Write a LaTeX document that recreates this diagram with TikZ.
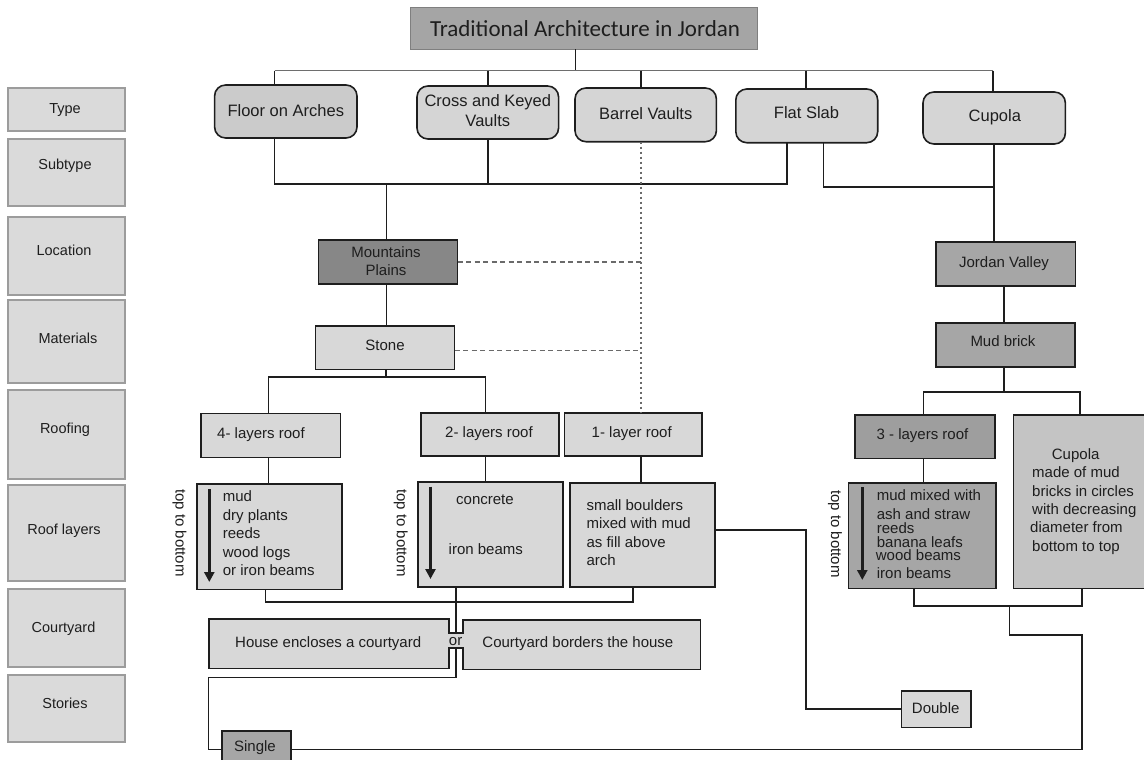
\documentclass[tikz,border=0pt]{standalone}
\usepackage{fontspec}
\setmainfont{Liberation Sans}
\newfontfamily\titlefont{Carlito}
\usetikzlibrary{arrows.meta}

\definecolor{ink}{HTML}{1E1E1E}
\definecolor{colgray}{HTML}{DADADA}
\definecolor{coledge}{HTML}{9C9C9C}
\definecolor{lightfill}{HTML}{D8D8D8}
\definecolor{typefill}{HTML}{D5D5D5}
\definecolor{archfill}{HTML}{CBCBCB}
\definecolor{midfill}{HTML}{A6A6A6}
\definecolor{darkfill}{HTML}{878787}
\definecolor{cupfill}{HTML}{C4C4C4}
\definecolor{titlefill}{HTML}{A5A5A5}
\definecolor{titleedge}{HTML}{7F7F7F}
\definecolor{busgray}{HTML}{6E6E6E}
\definecolor{dashgray}{HTML}{6A6A6A}

% box from its corner coordinates: style, name, x1, y1, x2, y2
\newcommand\mkbox[6]{%
  \pgfmathsetmacro\bxw{#5-#3}\pgfmathsetmacro\bxh{#6-#4}%
  \pgfmathsetmacro\bxx{(#3+#5)/2}\pgfmathsetmacro\bxy{(#4+#6)/2}%
  \node[#1, minimum width=\bxw pt, minimum height=\bxh pt] (#2) at (\bxx,\bxy) {};}

\tikzset{
  colbox/.style={draw=coledge, fill=colgray, line width=1.2pt, inner sep=0pt, outer sep=0pt},
  titlebox/.style={draw=titleedge, fill=titlefill, line width=1.2pt, inner sep=0pt, outer sep=0pt},
  typebox/.style={draw=ink, fill=typefill, line width=1.6pt, rounded corners=11pt, inner sep=0pt, outer sep=0pt},
  flatbox/.style={draw=ink, fill=lightfill, line width=1.6pt, inner sep=0pt, outer sep=0pt},
  midbox/.style={flatbox, fill=midfill},
  darkbox/.style={flatbox, fill=darkfill},
  lbl/.style={inner sep=0pt, text=ink, font=\fontsize{15}{18}\selectfont, align=center},
  collbl/.style={lbl, font=\fontsize{14.5}{17}\selectfont},
  typelbl/.style={lbl, font=\fontsize{16.5}{20.5}\selectfont},
  ln/.style={inner sep=0pt, text=ink, font=\fontsize{15}{18}\selectfont, anchor=base west},
  wire/.style={draw=ink, line width=1.6pt, line join=miter},
  bus/.style={draw=busgray, line width=1.4pt},
  dashlink/.style={draw=dashgray, line width=1.4pt, dash pattern=on 5pt off 3.5pt},
  dotlink/.style={draw=dashgray, line width=1.6pt, dash pattern=on 2pt off 3pt},
  tbarrow/.style={draw=ink, line width=3pt, -{Triangle[width=10pt,length=10pt]}},
}

\begin{document}
\begin{tikzpicture}[x=1pt,y=-1pt]
\useasboundingbox (0,0) rectangle (1144,760);

% ---- left legend column ----
\mkbox{colbox}{cType}{8}{88}{125}{131}
\mkbox{colbox}{cSub}{8}{139}{125}{206}
\mkbox{colbox}{cLoc}{8}{217}{125}{295}
\mkbox{colbox}{cMat}{8}{300}{125}{383}
\mkbox{colbox}{cRoof}{8}{390}{125}{479}
\mkbox{colbox}{cLay}{8}{485}{125}{581}
\mkbox{colbox}{cCourt}{8}{589}{125}{667}
\mkbox{colbox}{cStor}{8}{675}{125}{742}
\node[collbl] (tType)  at (65,110)    {Type};
\node[collbl] (tSub)   at (65,166)    {Subtype};
\node[collbl] (tLoc)   at (64,250)    {Location};
\node[collbl] (tMat)   at (68,338)    {Materials};
\node[collbl] (tRoof)  at (65,430)    {Roofing};
\node[collbl] (tLay)   at (64,530.7)  {Roof layers};
\node[collbl] (tCourt) at (63.5,628.3){Courtyard};
\node[collbl] (tStor)  at (65,703.3)  {Stories};

% ---- title ----
\mkbox{titlebox}{title}{410.7}{7.3}{757.3}{49.3}
\node[inner sep=0pt, text=ink, font=\titlefont\fontsize{23}{26}\selectfont] (tTitle) at (585,28.3) {Traditional Architecture in Jordan};

% ---- types ----
\mkbox{typebox, fill=archfill}{fa}{214.6}{85}{357}{138}
\mkbox{typebox}{ck}{417}{86}{558.6}{139}
\mkbox{typebox}{bv}{575}{88}{716.4}{141.7}
\mkbox{typebox}{fs}{735.8}{89}{877.7}{142.7}
\mkbox{typebox}{cu}{923}{92}{1065.4}{144}
\node[typelbl] (tfa) at (285.8,111)   {Floor on Arches};
\node[typelbl] (tck) at (487.8,110.4) {Cross and Keyed\\Vaults};
\node[typelbl] (tbv) at (645.7,113.3) {Barrel Vaults};
\node[typelbl] (tfs) at (806.5,112.3) {Flat Slab};
\node[typelbl] (tcu) at (994.8,117.7) {Cupola};

% ---- locations and materials ----
\mkbox{darkbox}{mp}{318.4}{240}{457.6}{284}
\mkbox{flatbox}{st}{315.6}{325.7}{454.5}{369.3}
\mkbox{midbox}{jv}{935.9}{241.7}{1075.4}{286}
\mkbox{midbox}{mb}{936}{322.7}{1075}{366.7}
\node[lbl] (tmp) at (386,261.2) {Mountains\\Plains};
\node[lbl] (tst) at (385,345)   {Stone};
\node[lbl] (tjv) at (1004,264)  {Jordan Valley};
\node[lbl] (tmb) at (1003,340.7){Mud brick};

% ---- roofing ----
\mkbox{flatbox}{r4}{200.9}{413.3}{340.6}{457.3}
\mkbox{flatbox}{r2}{421}{413}{558.7}{456}
\mkbox{flatbox}{r1}{564.5}{413}{702.2}{456}
\mkbox{midbox, fill=midfill!95!black}{r3}{855}{415}{995}{458.3}
\node[lbl] (tr4) at (261,434.3)   {4- layers roof};
\node[lbl] (tr2) at (489,434)     {2- layers roof};
\node[lbl] (tr1) at (631.7,434)   {1- layer roof};
\node[lbl] (tr3) at (922.5,436)   {3 - layers roof};

% ---- roof layers ----
\mkbox{flatbox}{l4}{196.7}{484}{342}{589.3}
\mkbox{flatbox, line width=2.2pt}{l2}{418}{482.3}{563.3}{587.3}
\mkbox{flatbox, line width=2pt}{l1}{569.8}{483.3}{714.5}{587.3}
\mkbox{midbox}{l3}{848.3}{482.7}{995.7}{588.3}
\mkbox{flatbox, fill=cupfill}{cup}{1013.3}{415}{1160}{588.3}

\foreach \t [count=\i] in {mud, dry plants, reeds, wood logs, or iron beams}
  \node[ln] (lf\i) at (222.7,{501.7+(\i-1)*18.5}) {\t};
\node[ln] (lt1) at (456,504)   {concrete};
\node[ln] (lt2) at (448.5,554) {iron beams};
\foreach \t [count=\i] in {small boulders, mixed with mud, as fill above, arch}
  \node[ln] (lo\i) at (586.3,{510+(\i-1)*18.5}) {\t};
\node[ln] (lh1) at (876.7,500)   {mud mixed with};
\node[ln] (lh2) at (876.7,519)   {ash and straw};
\node[ln] (lh3) at (876.7,533)   {reeds};
\node[ln] (lh4) at (876.7,547)   {banana leafs};
\node[ln] (lh5) at (875.7,560.7) {wood beams};
\node[ln] (lh6) at (876.7,578.3) {iron beams};
\node[ln] (lc1) at (1051.7,459)  {Cupola};
\node[ln] (lc2) at (1032,477.7)  {made of mud};
\node[ln] (lc3) at (1032,496.7)  {bricks in circles};
\node[ln] (lc4) at (1032,514.3)  {with decreasing};
\node[ln] (lc5) at (1030,532.3)  {diameter from};
\node[ln] (lc6) at (1032,551.7)  {bottom to top};

\node[lbl, rotate=-90] (tb4) at (179.5,533) {top to bottom};
\node[lbl, rotate=-90] (tb2) at (400.7,533) {top to bottom};
\node[lbl, rotate=-90] (tb3) at (835,534)   {top to bottom};
\draw[tbarrow] (209.3,489) -- (209.3,582);
\draw[tbarrow] (430.5,486.7) -- (430.5,579);
\draw[tbarrow] (862.3,487.3) -- (862.3,580);

% ---- courtyard and stories ----
\draw[flatbox] (209,619) -- (449,619) -- (449,632.7) -- (462.7,632.7) -- (462.7,620)
  -- (700.4,620) -- (700.4,669.3) -- (462.7,669.3) -- (462.7,647.7) -- (449,647.7)
  -- (449,668.3) -- (209,668.3) -- cycle;
\node[lbl] (tcy1) at (328.2,643.3) {House encloses a courtyard};
\node[lbl] (tcyo) at (455.6,641.2) {or};
\node[lbl] (tcy2) at (577.9,643.3) {Courtyard borders the house};
\mkbox{flatbox}{dbl}{901.4}{690.7}{971}{727.3}
\mkbox{midbox}{sgl}{221.7}{731}{290.7}{767.6}
\node[lbl] (tdbl) at (935.7,707.7) {Double};
\node[lbl] (tsgl) at (255,747.3)   {Single};

% ---- junction points ----
\coordinate (busT) at (575.6,70.7);
\coordinate (busA) at (274.5,70.7);
\coordinate (busB) at (488,70.7);
\coordinate (busC) at (640.8,70.7);
\coordinate (busD) at (805.8,70.7);
\coordinate (busE) at (993,70.7);
\coordinate (jA) at (274.5,184);
\coordinate (jB) at (488,184);
\coordinate (jM) at (386.6,184);
\coordinate (jC) at (787,184);
\coordinate (kA) at (823.3,186.7);
\coordinate (kB) at (994,186.7);
\coordinate (sJ) at (386,376.7);
\coordinate (sL) at (268.6,376.7);
\coordinate (sR) at (485.6,376.7);
\coordinate (mJ) at (1004,391.7);
\coordinate (mL) at (923.3,391.7);
\coordinate (mR) at (1080,391.7);
\coordinate (bA) at (265.6,601.7);
\coordinate (bB) at (633,601.7);
\coordinate (nT) at (456,632.7);
\coordinate (nB) at (456,647.7);
\coordinate (cvA) at (456,677.3);
\coordinate (cvB) at (208.3,677.3);
\coordinate (dA) at (806,530);
\coordinate (eA) at (914,606);
\coordinate (eB) at (1081.7,606);
\coordinate (eC) at (1009.3,606);
\coordinate (eD) at (1009.3,635);
\coordinate (eE) at (1082,635);

% ---- connectors ----
\draw[wire] (title.south -| busT) -- (busT);
\draw[bus] (busA) -- (busE);
\draw[wire] (busA) -- (busA |- fa.north);
\draw[wire] (busB) -- (busB |- ck.north);
\draw[wire] (busC) -- (busC |- bv.north);
\draw[wire] (busD) -- (busD |- fs.north);
\draw[wire] (busE) -- (busE |- cu.north);

\draw[wire] (fa.south -| jA) -- (jA) -- (jC) -- (jC |- fs.south);
\draw[wire] (ck.south -| jB) -- (jB);
\draw[wire] (jM) -- (jM |- mp.north);
\draw[wire] (fs.south -| kA) -- (kA) -- (kB);
\draw[wire] (cu.south -| kB) -- (kB |- jv.north);

\draw[dotlink] (bv.south -| busC) -- (busC |- r1.north);
\draw[dashlink] (mp.east) -- (mp.east -| busC);
\draw[dashlink] ([yshift=-3pt]st.east) -- ([yshift=-3pt]st.east -| busC);

\draw[wire] (mp.south -| jM) -- (jM |- st.north);
\draw[wire] (st.south -| sJ) -- (sJ);
\draw[wire] (sL |- r4.north) -- (sL) -- (sR) -- (sR |- r2.north);
\draw[wire] (r4.south -| sL) -- (sL |- l4.north);
\draw[wire] (r2.south -| sR) -- (sR |- l2.north);
\draw[wire] (r1.south -| busC) -- (busC |- l1.north);

\draw[wire] (jv.south -| mJ) -- (mJ |- mb.north);
\draw[wire] (mb.south -| mJ) -- (mJ);
\draw[wire] (mL |- r3.north) -- (mL) -- (mR) -- (mR |- cup.north);
\draw[wire] (r3.south -| mL) -- (mL |- l3.north);

\draw[wire] (l4.south -| bA) -- (bA) -- (bB) -- (bB |- l1.south);
\draw[wire] (l2.south -| nT) -- (nT);
\draw[wire] (nB) -- (cvA) -- (cvB) -- (cvB |- sgl.west) -- (sgl.west);
\draw[wire] (l1.east |- dA) -- (dA) -- (dA |- dbl.west) -- (dbl.west);
\draw[wire] (l3.south -| eA) -- (eA) -- (eB) -- (eB |- cup.south);
\draw[wire] (eC) -- (eD) -- (eE) -- (eE |- sgl.east) -- (sgl.east);
\end{tikzpicture}
\end{document}
